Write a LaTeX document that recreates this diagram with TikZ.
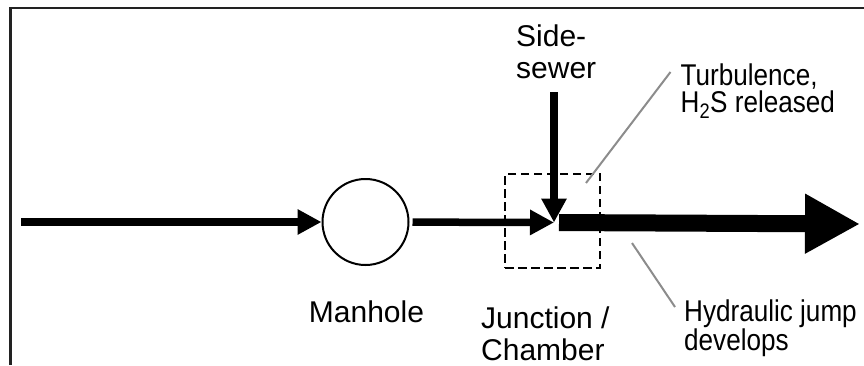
\documentclass[tikz,border=0pt]{standalone}
\usepackage{fontspec}
\setmainfont{Liberation Sans}
\newfontfamily\narrowsans[FakeStretch=0.87]{Liberation Sans}
\usepackage{tikz}
\usetikzlibrary{arrows.meta}
\definecolor{ink}{HTML}{000000}
\definecolor{framegray}{HTML}{222222}
\definecolor{leadgray}{HTML}{8C8C8C}

\begin{document}
\begin{tikzpicture}[x=1pt,y=1pt, every node/.style={font=\fontsize{30}{32}\selectfont,inner sep=0pt}, lbl/.style={align=left,anchor=base west}, flow/.style={draw=ink,line width=7.5pt,shorten <=3pt,-{Triangle[length=24pt,width=24pt]}}, bigflow/.style={draw=ink,line width=17pt,shorten <=5pt,-{Triangle[length=55pt,width=56pt]}}, leader/.style={draw=leadgray,line width=2pt}, pit/.style={circle,draw=ink,line width=2pt,minimum size=86pt}, chamber/.style={draw=ink,line width=2.3pt,dash pattern=on 8.5pt off 4.5pt,minimum width=95pt,minimum height=94pt}]
\useasboundingbox (0,0) rectangle (864,365);
\draw[framegray,line width=2.5pt] (10.5,0) -- (10.5,357) -- (864,357);
\coordinate (in) at (18,143);
\node[pit] (manhole) at (365.5,143) {};
\node[chamber] (junction) at (552.5,144) {};
\coordinate (meet) at (554,142.5);
\coordinate (sewer) at (554,276);
\coordinate (out) at (860,141);
\coordinate (turbpt) at (586,182);
\coordinate (jumppt) at (632,122);
% base west of a two-line label is the second line's baseline
\node[anchor=base] (mhlbl) at (366.5,43) {Manhole};
\node[lbl] (sidelbl) at (516,287) {Side-\\sewer};
\node[lbl] (junclbl) at (481,5) {Junction /\\Chamber};
\node[lbl,font=\narrowsans\fontsize{30}{27}\selectfont] (turblbl) at (680.5,253) {Turbulence,\\H\textsubscript{2}S released};
\node[lbl,font=\narrowsans\fontsize{30}{25}\selectfont] (jumplbl) at (684,15) {Hydraulic jump\\develops};
\foreach \a/\b in {in/manhole,manhole/meet,sewer/meet}{\draw[flow] (\a)--(\b);}
\draw[bigflow] (meet)--(out);
\draw[leader] (turbpt)--([shift={(-10pt,40pt)}]turblbl.base west);
\draw[leader] (jumppt)--([shift={(-9pt,43pt)}]jumplbl.base west);
\end{tikzpicture}
\end{document}
